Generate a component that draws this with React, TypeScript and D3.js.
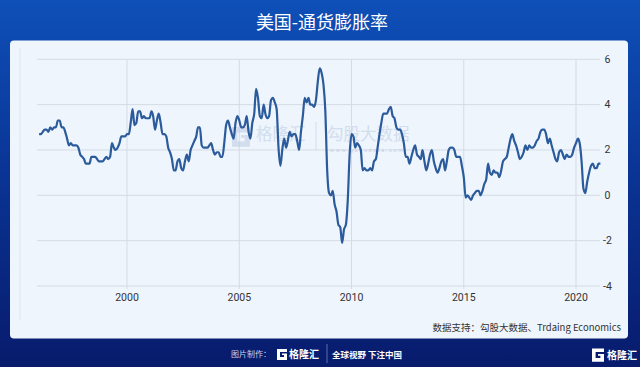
import React from "react";
import * as d3 from "d3";

// US CPI YoY (%), monthly, Jan 1996 .. Jan 2021
const startYear = 1996;
const cpi1996 = [2.7, 2.7, 2.8, 2.9, 2.9, 2.8, 3.0, 2.9, 3.0, 3.0, 3.3, 3.3];
const cpi1997 = [3.0, 3.0, 2.8, 2.5, 2.2, 2.3, 2.2, 2.2, 2.2, 2.1, 1.8, 1.7];
const cpi1998 = [1.6, 1.4, 1.4, 1.4, 1.7, 1.7, 1.7, 1.6, 1.5, 1.5, 1.5, 1.6];
const cpi1999 = [1.7, 1.6, 1.7, 2.3, 2.1, 2.0, 2.1, 2.3, 2.6, 2.6, 2.6, 2.7];
const cpi2000 = [2.7, 3.2, 3.8, 3.1, 3.2, 3.7, 3.7, 3.4, 3.5, 3.4, 3.4, 3.4];
const cpi2001 = [3.7, 3.5, 2.9, 3.3, 3.6, 3.2, 2.7, 2.7, 2.6, 2.1, 1.9, 1.6];
const cpi2002 = [1.1, 1.1, 1.5, 1.6, 1.2, 1.1, 1.5, 1.8, 1.5, 2.0, 2.2, 2.4];
const cpi2003 = [2.6, 3.0, 3.0, 2.2, 2.1, 2.1, 2.1, 2.2, 2.3, 2.0, 1.8, 1.9];
const cpi2004 = [1.9, 1.7, 1.7, 2.3, 3.1, 3.3, 3.0, 2.7, 2.5, 3.2, 3.5, 3.3];
const cpi2005 = [3.0, 3.0, 3.1, 3.5, 2.8, 2.5, 3.2, 3.6, 4.7, 4.3, 3.5, 3.4];
const cpi2006 = [4.0, 3.6, 3.4, 3.5, 4.2, 4.3, 4.1, 3.8, 2.1, 1.3, 2.0, 2.5];
const cpi2007 = [2.1, 2.4, 2.8, 2.6, 2.7, 2.7, 2.4, 2.0, 2.8, 3.5, 4.3, 4.1];
const cpi2008 = [4.3, 4.0, 4.0, 3.9, 4.2, 5.0, 5.6, 5.4, 4.9, 3.7, 1.1, 0.1];
const cpi2009 = [0.0, 0.2, -0.4, -0.7, -1.3, -1.4, -2.1, -1.5, -1.3, -0.2, 1.8, 2.7];
const cpi2010 = [2.6, 2.1, 2.3, 2.2, 2.0, 1.1, 1.2, 1.1, 1.1, 1.2, 1.1, 1.5];
const cpi2011 = [1.6, 2.1, 2.7, 3.2, 3.6, 3.6, 3.6, 3.8, 3.9, 3.5, 3.4, 3.0];
const cpi2012 = [2.9, 2.9, 2.7, 2.3, 1.7, 1.7, 1.4, 1.7, 2.0, 2.2, 1.8, 1.7];
const cpi2013 = [1.6, 2.0, 1.5, 1.1, 1.4, 1.8, 2.0, 1.5, 1.2, 1.0, 1.2, 1.5];
const cpi2014 = [1.6, 1.1, 1.5, 2.0, 2.1, 2.1, 2.0, 1.7, 1.7, 1.7, 1.3, 0.8];
const cpi2015 = [-0.1, 0.0, -0.1, -0.2, 0.0, 0.1, 0.2, 0.2, 0.0, 0.2, 0.5, 0.7];
const cpi2016 = [1.4, 1.0, 0.9, 1.1, 1.0, 1.0, 0.8, 1.1, 1.5, 1.6, 1.7, 2.1];
const cpi2017 = [2.5, 2.7, 2.4, 2.2, 1.9, 1.6, 1.7, 1.9, 2.2, 2.0, 2.2, 2.1];
const cpi2018 = [2.1, 2.2, 2.4, 2.5, 2.8, 2.9, 2.9, 2.7, 2.3, 2.5, 2.2, 1.9];
const cpi2019 = [1.6, 1.5, 1.9, 2.0, 1.8, 1.6, 1.8, 1.7, 1.7, 1.8, 2.1, 2.3];
const cpi2020 = [2.5, 2.3, 1.5, 0.3, 0.1, 0.6, 1.0, 1.3, 1.4, 1.2, 1.2, 1.4];
const cpi2021 = [1.4];

const yearTicks = [2000, 2005, 2010, 2015, 2020];
const valueTicks = [-4, -2, 0, 2, 4, 6];

const title = "美国-通货膨胀率";
const source = "数据支持：勾股大数据、Trdaing Economics";

const allValues = [
  cpi1996, cpi1997, cpi1998, cpi1999, cpi2000, cpi2001, cpi2002, cpi2003,
  cpi2004, cpi2005, cpi2006, cpi2007, cpi2008, cpi2009, cpi2010, cpi2011,
  cpi2012, cpi2013, cpi2014, cpi2015, cpi2016, cpi2017, cpi2018, cpi2019,
  cpi2020, cpi2021,
];

// each reading is plotted at the end of its month
const data = allValues.flatMap((year, yi) =>
  year.map((v, m) => ({ date: new Date(startYear + yi, m + 1, 1), value: v }))
);

const W = 640;
const H = 367;
const font = "'Noto Sans CJK SC', 'Noto Sans', sans-serif";

const x = d3
  .scaleTime()
  .domain([new Date(2000, 0, 1), new Date(2020, 0, 1)])
  .range([127, 576]);
const y = d3.scaleLinear().domain([-4, 6]).range([286, 59.3]);

const line = d3
  .line<{ date: Date; value: number }>()
  .x((d) => x(d.date))
  .y((d) => y(d.value))
  .curve(d3.curveMonotoneX);

const gridLeft = 37;
const gridRight = 600;

const Logo = ({ x0, y0, s, color }) => (
  <g transform={`translate(${x0},${y0}) scale(${s})`}>
    <path
      d="M0,0 H10 V3 H3 V8 H7 V6 H5 V4.5 H10 V11 H0 Z"
      fill={color}
    />
  </g>
);

export default function App() {
  return (
    <svg width={W} height={H} style={{ display: "block", position: "absolute", left: 0, top: 0 }}>
      <defs>
        <linearGradient id="bg" x1="0" y1="0" x2="0" y2="1">
          <stop offset="0" stopColor="#0e50b8" />
          <stop offset="0.45" stopColor="#0a3596" />
          <stop offset="1" stopColor="#081b6c" />
        </linearGradient>
      </defs>
      <rect width={W} height={H} fill="url(#bg)" />
      <text
        x={322}
        y={29}
        textAnchor="middle"
        fill="#ffffff"
        fontSize={18}
        fontFamily={font}
      >
        {title}
      </text>

      <rect x={10} y={40.5} width={618} height={298} rx={4} fill="#eef5fd" />
      <line x1={20} x2={20} y1={48} y2={320} stroke="#dfe6ef" strokeWidth={1} />

      {/* grid */}
      {valueTicks.map((v) => (
        <line
          key={"h" + v}
          x1={gridLeft}
          x2={gridRight}
          y1={y(v)}
          y2={y(v)}
          stroke="#d5dbe4"
          strokeWidth={1}
        />
      ))}
      {yearTicks.map((yr) => (
        <line
          key={"v" + yr}
          x1={x(new Date(yr, 0, 1))}
          x2={x(new Date(yr, 0, 1))}
          y1={y(6)}
          y2={y(-4) + 3}
          stroke="#d5dbe4"
          strokeWidth={1}
        />
      ))}

      {/* axis labels */}
      {yearTicks.map((yr) => (
        <text
          key={"t" + yr}
          x={x(new Date(yr, 0, 1))}
          y={301}
          textAnchor="middle"
          fontSize={10.5}
          fill="#333333"
          fontFamily="Roboto, sans-serif"
        >
          {yr}
        </text>
      ))}
      {valueTicks.map((v) => (
        <text
          key={"l" + v}
          x={v < 0 ? 603 : 604.5}
          y={y(v) + 3.5}
          fontSize={10.5}
          fill="#333333"
          fontFamily="Roboto, sans-serif"
        >
          {v}
        </text>
      ))}

      {/* watermark */}
      <g opacity={0.6}>
        <Logo x0={232} y0={127} s={1.8} color="#c0cee3" />
        <text x={256} y={140} fontSize={16.5} fill="#c0cee3" fontFamily={font}>
          格隆汇
        </text>
        <line x1={316} x2={316} y1={122} y2={150} stroke="#c0cee3" strokeWidth={1} />
        <text x={327} y={140} fontSize={16.5} fill="#c0cee3" fontFamily={font}>
          勾股大数据
        </text>
        <text x={330} y={151.5} fontSize={5.5} fill="#b0c0d8" fontFamily="Roboto, sans-serif" letterSpacing={1.6}>
          www.gugudata.com
        </text>
      </g>

      <path d={line(data) ?? ""} fill="none" stroke="#2b5b9b" strokeWidth={2.2} strokeLinejoin="round" />

      <text
        x={621}
        y={330.5}
        textAnchor="end"
        fontSize={9.5}
        fill="#333333"
        fontFamily={font}
      >
        {source}
      </text>

      {/* footer */}
      <text x={231} y={357} fontSize={8} fill="#c9d3ee" fontFamily={font}>
        图片制作：
      </text>
      <Logo x0={277} y0={349} s={1} color="#ffffff" />
      <text x={289} y={358} fontSize={10} fontWeight="bold" fill="#ffffff" fontFamily={font}>
        格隆汇
      </text>
      <line x1={327} x2={327} y1={344} y2={363} stroke="#5a6fb0" strokeWidth={1} />
      <text x={332} y={357.5} fontSize={8.5} fontWeight="bold" fill="#ffffff" fontFamily={font}>
        全球视野 下注中国
      </text>
      <Logo x0={592} y0={348.5} s={1.2} color="#ffffff" />
      <text x={607} y={358.5} fontSize={10} fontWeight="bold" fill="#ffffff" fontFamily={font}>
        格隆汇
      </text>
    </svg>
  );
}
